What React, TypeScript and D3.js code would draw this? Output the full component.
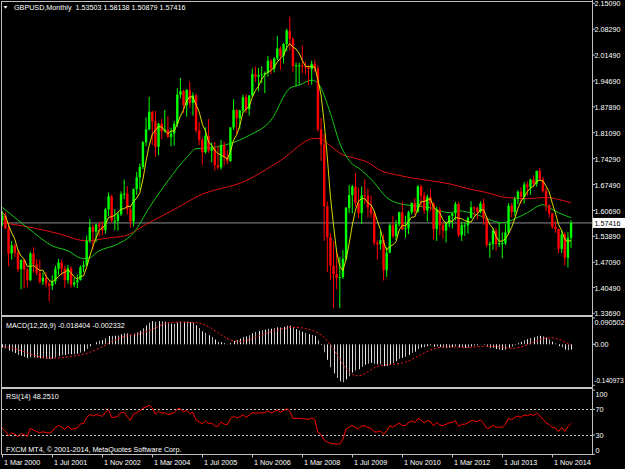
import React, { useEffect, useRef } from "react";
import * as d3 from "d3";

// monthly bars, first one is Jan 1999 (bars before Mar 2000 sit left of the chart)
const firstMonth = "1999-01";

const opens = [
  1.66, 1.646, 1.605, 1.612, 1.608, 1.604, 1.578, 1.608, 1.602, 1.647, 1.646, 1.599,
  1.615, 1.617, 1.58, 1.593, 1.56, 1.494, 1.515, 1.496, 1.453, 1.477, 1.452, 1.424,
  1.494, 1.465, 1.443, 1.42, 1.43, 1.415, 1.409, 1.421, 1.454, 1.47, 1.454, 1.424,
  1.455, 1.412, 1.418, 1.424, 1.458, 1.463, 1.528, 1.563, 1.551, 1.57, 1.565, 1.555,
  1.61, 1.644, 1.58, 1.58, 1.597, 1.65, 1.651, 1.61, 1.578, 1.663, 1.694, 1.721,
  1.786, 1.82, 1.866, 1.841, 1.774, 1.835, 1.815, 1.819, 1.8, 1.809, 1.834, 1.911,
  1.92, 1.884, 1.923, 1.889, 1.909, 1.817, 1.792, 1.76, 1.803, 1.764, 1.77, 1.726,
  1.72, 1.779, 1.746, 1.737, 1.825, 1.871, 1.849, 1.869, 1.904, 1.873, 1.909, 1.965,
  1.958, 1.962, 1.964, 1.968, 2.0, 1.979, 2.006, 2.032, 2.013, 2.044, 2.079, 2.057,
  1.986, 1.988, 1.988, 1.985, 1.982, 1.978, 1.992, 1.98, 1.82, 1.78, 1.618, 1.537,
  1.462, 1.44, 1.43, 1.432, 1.48, 1.614, 1.647, 1.67, 1.627, 1.6, 1.647, 1.646,
  1.615, 1.599, 1.522, 1.518, 1.529, 1.45, 1.496, 1.568, 1.54, 1.571, 1.602, 1.558,
  1.56, 1.602, 1.626, 1.604, 1.67, 1.646, 1.607, 1.642, 1.625, 1.558, 1.608, 1.569,
  1.554, 1.573, 1.593, 1.6, 1.624, 1.542, 1.568, 1.568, 1.587, 1.615, 1.614, 1.603,
  1.625, 1.586, 1.517, 1.519, 1.553, 1.519, 1.521, 1.521, 1.549, 1.619, 1.603, 1.637,
  1.656, 1.643, 1.675, 1.668, 1.688, 1.677, 1.711, 1.688, 1.658, 1.621, 1.599, 1.564,
  1.558, 1.506, 1.544, 1.483, 1.53503,
];
const highs = [
  1.674, 1.652, 1.64, 1.624, 1.643, 1.615, 1.615, 1.622, 1.652, 1.676, 1.652, 1.63,
  1.657, 1.625, 1.605, 1.603, 1.569, 1.527, 1.52, 1.505, 1.478, 1.48, 1.456, 1.498,
  1.51, 1.48, 1.478, 1.444, 1.444, 1.421, 1.437, 1.462, 1.48, 1.478, 1.462, 1.464,
  1.46, 1.43, 1.439, 1.463, 1.475, 1.541, 1.584, 1.57, 1.572, 1.576, 1.579, 1.614,
  1.654, 1.648, 1.61, 1.603, 1.657, 1.688, 1.671, 1.62, 1.665, 1.708, 1.73, 1.789,
  1.851, 1.905, 1.869, 1.868, 1.837, 1.847, 1.871, 1.854, 1.824, 1.842, 1.928, 1.955,
  1.924, 1.926, 1.945, 1.917, 1.914, 1.839, 1.798, 1.825, 1.847, 1.785, 1.787, 1.776,
  1.792, 1.787, 1.765, 1.825, 1.899, 1.873, 1.872, 1.911, 1.912, 1.909, 1.98, 1.985,
  1.981, 1.985, 1.972, 2.013, 2.005, 2.009, 2.065, 2.038, 2.046, 2.084, 2.116, 2.062,
  1.995, 1.995, 2.04, 1.998, 1.988, 2.0, 2.003, 1.988, 1.85, 1.808, 1.63, 1.548,
  1.526, 1.499, 1.485, 1.503, 1.616, 1.674, 1.674, 1.704, 1.666, 1.67, 1.688, 1.664,
  1.646, 1.606, 1.53, 1.554, 1.544, 1.51, 1.573, 1.592, 1.582, 1.604, 1.63, 1.593,
  1.606, 1.628, 1.64, 1.674, 1.675, 1.655, 1.649, 1.662, 1.628, 1.617, 1.616, 1.578,
  1.578, 1.594, 1.6, 1.63, 1.629, 1.578, 1.576, 1.591, 1.631, 1.618, 1.617, 1.631,
  1.638, 1.592, 1.525, 1.56, 1.561, 1.575, 1.549, 1.572, 1.626, 1.626, 1.643, 1.66,
  1.667, 1.682, 1.683, 1.69, 1.699, 1.711, 1.719, 1.695, 1.666, 1.623, 1.6, 1.579,
  1.559, 1.555, 1.55, 1.55, 1.58138,
];
const lows = [
  1.624, 1.599, 1.597, 1.597, 1.598, 1.571, 1.558, 1.587, 1.59, 1.635, 1.589, 1.597,
  1.607, 1.565, 1.566, 1.558, 1.46, 1.478, 1.485, 1.446, 1.4, 1.402, 1.405, 1.422,
  1.444, 1.436, 1.415, 1.411, 1.405, 1.368, 1.398, 1.413, 1.437, 1.436, 1.404, 1.415,
  1.404, 1.406, 1.403, 1.423, 1.445, 1.46, 1.522, 1.505, 1.524, 1.538, 1.542, 1.546,
  1.592, 1.575, 1.555, 1.554, 1.592, 1.637, 1.596, 1.562, 1.565, 1.648, 1.661, 1.715,
  1.776, 1.817, 1.779, 1.748, 1.752, 1.794, 1.811, 1.798, 1.775, 1.777, 1.826, 1.901,
  1.863, 1.853, 1.877, 1.856, 1.811, 1.778, 1.727, 1.756, 1.758, 1.733, 1.711, 1.715,
  1.714, 1.725, 1.728, 1.734, 1.818, 1.808, 1.82, 1.863, 1.863, 1.856, 1.905, 1.944,
  1.92, 1.941, 1.915, 1.958, 1.965, 1.969, 2.001, 1.976, 1.993, 2.025, 2.027, 1.971,
  1.933, 1.936, 1.967, 1.965, 1.936, 1.937, 1.97, 1.814, 1.737, 1.527, 1.445, 1.424,
  1.35, 1.4, 1.351, 1.427, 1.475, 1.6, 1.599, 1.617, 1.587, 1.571, 1.624, 1.588,
  1.588, 1.515, 1.478, 1.504, 1.423, 1.432, 1.495, 1.534, 1.529, 1.565, 1.555, 1.535,
  1.545, 1.596, 1.596, 1.601, 1.616, 1.598, 1.578, 1.605, 1.53, 1.527, 1.542, 1.534,
  1.523, 1.563, 1.56, 1.581, 1.537, 1.527, 1.54, 1.546, 1.586, 1.591, 1.583, 1.599,
  1.569, 1.51, 1.483, 1.504, 1.501, 1.511, 1.481, 1.516, 1.544, 1.589, 1.593, 1.624,
  1.625, 1.625, 1.646, 1.648, 1.669, 1.669, 1.686, 1.654, 1.605, 1.588, 1.559, 1.548,
  1.495, 1.495, 1.463, 1.457, 1.50879,
];
const closes = [
  1.646, 1.605, 1.612, 1.608, 1.604, 1.578, 1.608, 1.602, 1.647, 1.646, 1.599, 1.615,
  1.617, 1.58, 1.593, 1.56, 1.494, 1.515, 1.496, 1.453, 1.477, 1.452, 1.424, 1.494,
  1.465, 1.443, 1.42, 1.43, 1.415, 1.409, 1.421, 1.454, 1.47, 1.454, 1.424, 1.455,
  1.412, 1.418, 1.424, 1.458, 1.463, 1.528, 1.563, 1.551, 1.57, 1.565, 1.555, 1.61,
  1.644, 1.58, 1.58, 1.597, 1.65, 1.651, 1.61, 1.578, 1.663, 1.694, 1.721, 1.786,
  1.82, 1.866, 1.841, 1.774, 1.835, 1.815, 1.819, 1.8, 1.809, 1.834, 1.911, 1.92,
  1.884, 1.923, 1.889, 1.909, 1.817, 1.792, 1.76, 1.803, 1.764, 1.77, 1.726, 1.72,
  1.779, 1.746, 1.737, 1.825, 1.871, 1.849, 1.869, 1.904, 1.873, 1.909, 1.965, 1.958,
  1.962, 1.964, 1.968, 2.0, 1.979, 2.006, 2.032, 2.013, 2.044, 2.079, 2.057, 1.986,
  1.988, 1.988, 1.985, 1.982, 1.978, 1.992, 1.98, 1.82, 1.78, 1.618, 1.537, 1.462,
  1.44, 1.43, 1.432, 1.48, 1.614, 1.647, 1.67, 1.627, 1.6, 1.647, 1.646, 1.615,
  1.599, 1.522, 1.518, 1.529, 1.45, 1.496, 1.568, 1.54, 1.571, 1.602, 1.558, 1.56,
  1.602, 1.626, 1.604, 1.67, 1.646, 1.607, 1.642, 1.625, 1.558, 1.608, 1.569, 1.554,
  1.573, 1.593, 1.6, 1.624, 1.542, 1.568, 1.568, 1.587, 1.615, 1.614, 1.603, 1.625,
  1.586, 1.517, 1.519, 1.553, 1.519, 1.521, 1.521, 1.549, 1.619, 1.603, 1.637, 1.656,
  1.643, 1.675, 1.668, 1.688, 1.677, 1.711, 1.688, 1.658, 1.621, 1.599, 1.564, 1.558,
  1.506, 1.544, 1.483, 1.535, 1.57416,
];

// slow moving averages as drawn on the chart
const greenDates = [
  "2000-03", "2000-09", "2001-01", "2001-07", "2001-12", "2002-04", "2002-06", "2002-10",
  "2003-04", "2003-09", "2004-02", "2004-08", "2005-02", "2005-05", "2005-10", "2006-04",
  "2006-10", "2007-05", "2007-11", "2008-02", "2008-06", "2008-08", "2008-12", "2009-03",
  "2009-06", "2009-10", "2010-02", "2010-06", "2010-10", "2011-02", "2011-08", "2012-02",
  "2012-05", "2012-10", "2013-07", "2013-11", "2014-03", "2014-08", "2014-10", "2015-01",
  "2015-05",
];
const greenValues = [
  1.615, 1.575, 1.549, 1.514, 1.501, 1.482, 1.48, 1.501,
  1.519, 1.548, 1.614, 1.685, 1.746, 1.769, 1.772, 1.783,
  1.804, 1.844, 1.928, 1.936, 1.949, 1.941, 1.862, 1.783,
  1.738, 1.712, 1.68, 1.641, 1.625, 1.62, 1.614, 1.601,
  1.606, 1.598, 1.575, 1.585, 1.601, 1.622, 1.614, 1.601,
  1.588,
];
const redDates = [
  "2000-03", "2001-01", "2001-09", "2002-06", "2003-01", "2003-06", "2004-02", "2004-11",
  "2005-06", "2006-09", "2007-08", "2008-07", "2008-09", "2008-11", "2009-04", "2009-07",
  "2009-12", "2010-04", "2010-10", "2011-03", "2011-08", "2012-02", "2012-08", "2013-02",
  "2013-08", "2014-03", "2014-09", "2015-01", "2015-05",
];
const redValues = [
  1.575, 1.561, 1.546, 1.527, 1.535, 1.54, 1.575, 1.614,
  1.646, 1.685, 1.738, 1.796, 1.795, 1.783, 1.753, 1.746,
  1.733, 1.712, 1.699, 1.691, 1.685, 1.677, 1.664, 1.654,
  1.641, 1.638, 1.641, 1.636, 1.627,
];

const priceTicks = [
  2.1509, 2.0829, 2.0149, 1.9469, 1.8789, 1.8109, 1.7429, 1.6749, 1.6069, 1.5389,
  1.4709, 1.4049, 1.3369,
];
const macdTicks = [0.090502, 0, -0.140973];
const macdTickLabels = ["0.090502", "0.00", "-0.140973"];
const rsiTicks = [100, 70, 30, 0];
const rsiLevels = [70, 30];
const timeTicks = [
  "2000-03", "2001-07", "2002-11", "2004-03", "2005-07", "2006-11",
  "2008-03", "2009-07", "2010-11", "2012-03", "2013-07", "2014-11",
];
const monthNames = ["Jan", "Feb", "Mar", "Apr", "May", "Jun", "Jul", "Aug", "Sep", "Oct", "Nov", "Dec"];
const bidPrice = 1.57416;
const yellowPeriod = 5;

function monthIndex(s: string) {
  const [yy, mm] = s.split("-").map(Number);
  return (yy - 2000) * 12 + (mm - 3);
}

function App() {
  const ref = useRef<SVGSVGElement>(null);

  useEffect(() => {
    const W = 625,
      H = 469;
    const svg = d3.select(ref.current);
    svg.selectAll("*").remove();
    const font = "'Liberation Sans', Arial, sans-serif";
    const axisColor = "#c0c0c0";

    svg.append("rect").attr("width", W).attr("height", H).attr("fill", "#000");

    const right = 592;
    const main = { top: 2, bottom: 315 };
    const macdPanel = { top: 318, bottom: 385.3 };
    const rsiPanel = { top: 390.1, bottom: 454.3 };

    const x = d3.scaleLinear().domain([0, 176]).range([2.3, 552.3]);
    const y = d3.scaleLinear().domain([1.3369, 2.1509]).range([313.3, 3.3]);
    const m = d3
      .scaleLinear()
      .domain([-0.140973, 0.090502])
      .range([macdPanel.bottom, macdPanel.top]);
    const r = d3.scaleLinear().domain([0, 100]).range([rsiPanel.bottom, rsiPanel.top]);

    const defs = svg.append("defs");
    const clip = (id: string, y0: number, y1: number) => {
      defs
        .append("clipPath")
        .attr("id", id)
        .append("rect")
        .attr("x", 2)
        .attr("y", y0)
        .attr("width", right - 2)
        .attr("height", y1 - y0);
    };
    clip("clipMain", main.top, main.bottom);
    clip("clipMacd", 317, 386.5);
    clip("clipRsi", 389.5, 454);

    const start = monthIndex(firstMonth);
    const bars = closes.map((c, k) => ({
      i: start + k,
      o: opens[k],
      h: highs[k],
      l: lows[k],
      c: c,
    }));

    // ---------- main panel ----------
    const g = svg.append("g").attr("clip-path", "url(#clipMain)");

    const line = d3
      .line<[number, number]>()
      .x((d) => x(d[0]))
      .y((d) => y(d[1]))
      .curve(d3.curveMonotoneX);

    g.append("line")
      .attr("x1", 2)
      .attr("x2", right)
      .attr("y1", y(bidPrice))
      .attr("y2", y(bidPrice))
      .attr("stroke", "#8c8c8c")
      .attr("stroke-width", 1);

    const redPts: [number, number][] = redDates.map((d, k) => [monthIndex(d), redValues[k]]);
    g.append("path")
      .attr("d", line(redPts))
      .attr("fill", "none")
      .attr("stroke", "#e01010")
      .attr("stroke-width", 1);

    const greenPts: [number, number][] = greenDates.map((d, k) => [monthIndex(d), greenValues[k]]);
    g.append("path")
      .attr("d", line(greenPts))
      .attr("fill", "none")
      .attr("stroke", "#14c814")
      .attr("stroke-width", 1);

    const col = (d: any) => (d.c >= d.o ? "#00ff00" : "#ff0000");
    g.selectAll("line.wick")
      .data(bars)
      .join("line")
      .attr("class", "wick")
      .attr("x1", (d) => x(d.i))
      .attr("x2", (d) => x(d.i))
      .attr("y1", (d) => y(d.h))
      .attr("y2", (d) => y(d.l))
      .attr("stroke", col)
      .attr("stroke-width", 1);
    g.selectAll("rect.body")
      .data(bars)
      .join("rect")
      .attr("class", "body")
      .attr("x", (d) => x(d.i) - 1.2)
      .attr("width", 2.4)
      .attr("y", (d) => y(Math.max(d.o, d.c)))
      .attr("height", (d) => Math.max(1, Math.abs(y(d.o) - y(d.c))))
      .attr("fill", col);

    const yellowPts: [number, number][] = [];
    bars.forEach((b, k) => {
      if (k < yellowPeriod - 1) return;
      const avg = d3.mean(closes.slice(k - yellowPeriod + 1, k + 1)) as number;
      yellowPts.push([b.i, avg]);
    });
    g.append("path")
      .attr("d", d3.line<[number, number]>().x((d) => x(d[0])).y((d) => y(d[1]))(yellowPts))
      .attr("fill", "none")
      .attr("stroke", "#f0f000")
      .attr("stroke-width", 0.9);

    // ---------- MACD(12,26,9) ----------
    const k12 = 2 / 13,
      k26 = 2 / 27;
    let e12 = closes[0],
      e26 = closes[0];
    const macd = closes.map((c) => {
      e12 = c * k12 + e12 * (1 - k12);
      e26 = c * k26 + e26 * (1 - k26);
      return e12 - e26;
    });
    const gm = svg.append("g").attr("clip-path", "url(#clipMacd)");
    gm.selectAll("line.hist")
      .data(bars)
      .join("line")
      .attr("class", "hist")
      .attr("x1", (d) => Math.round(x(d.i)) + 0.5)
      .attr("x2", (d) => Math.round(x(d.i)) + 0.5)
      .attr("y1", m(0))
      .attr("y2", (d, k) => m(macd[k]))
      .attr("stroke", (d, k) => (k % 2 ? "#b4b4b4" : "#e8e8e8"))
      .attr("stroke-width", 1);
    const sigPts: [number, number][] = [];
    bars.forEach((b, k) => {
      if (k < 8) return;
      sigPts.push([b.i, d3.mean(macd.slice(k - 8, k + 1)) as number]);
    });
    gm.append("path")
      .attr("d", d3.line<[number, number]>().x((d) => x(d[0])).y((d) => m(d[1]))(sigPts))
      .attr("fill", "none")
      .attr("stroke", "#ff1a1a")
      .attr("stroke-width", 1)
      .attr("stroke-dasharray", "2,2");

    // ---------- RSI(14) ----------
    const n = 14;
    const rsiPts: [number, number][] = [];
    let avgUp = 0,
      avgDn = 0;
    for (let k = 1; k < closes.length; k++) {
      const diff = closes[k] - closes[k - 1];
      const up = Math.max(diff, 0),
        dn = Math.max(-diff, 0);
      if (k <= n) {
        avgUp += up / n;
        avgDn += dn / n;
      } else {
        avgUp = (avgUp * (n - 1) + up) / n;
        avgDn = (avgDn * (n - 1) + dn) / n;
      }
      if (k >= n) rsiPts.push([bars[k].i, avgDn === 0 ? 100 : 100 - 100 / (1 + avgUp / avgDn)]);
    }
    const gr = svg.append("g").attr("clip-path", "url(#clipRsi)");
    gr.selectAll("line.level")
      .data(rsiLevels)
      .join("line")
      .attr("class", "level")
      .attr("x1", 2)
      .attr("x2", right)
      .attr("y1", (d) => Math.round(r(d)) + 0.5)
      .attr("y2", (d) => Math.round(r(d)) + 0.5)
      .attr("stroke", "#c8c8c8")
      .attr("stroke-width", 1)
      .attr("stroke-dasharray", "2,2");
    gr.append("path")
      .attr("d", d3.line<[number, number]>().x((d) => x(d[0])).y((d) => r(d[1]))(rsiPts))
      .attr("fill", "none")
      .attr("stroke", "#ff0000")
      .attr("stroke-width", 1);

    // ---------- frame ----------
    const frame = svg.append("g").attr("stroke", axisColor).attr("stroke-width", 1);
    frame.append("line").attr("x1", 1.5).attr("x2", 1.5).attr("y1", 1).attr("y2", 455);
    frame.append("line").attr("x1", 1).attr("x2", right).attr("y1", 1.5).attr("y2", 1.5);
    frame.append("line").attr("x1", right + 0.5).attr("x2", right + 0.5).attr("y1", 0).attr("y2", 455);
    frame.append("line").attr("x1", 1).attr("x2", right + 1).attr("y1", 454.5).attr("y2", 454.5);
    [315, 387].forEach((sy) => {
      svg.append("rect")
        .attr("x", 1)
        .attr("y", sy)
        .attr("width", right)
        .attr("height", 2)
        .attr("fill", "#c4c4c4");
    });

    const text = (tx: number, ty: number, s: string, fill = "#fff", anchor = "start", size = 7.2) =>
      svg
        .append("text")
        .attr("x", tx)
        .attr("y", ty)
        .attr("dy", "0.35em")
        .attr("fill", fill)
        .attr("text-anchor", anchor)
        .attr("font-family", font)
        .attr("font-size", size)
        .style("white-space", "pre")
        .text(s);

    // price axis
    priceTicks.forEach((v) => {
      const py = y(v);
      frame.append("line").attr("x1", right).attr("x2", right + 3).attr("y1", py).attr("y2", py);
      text(right + 2.5, py + 0.6, v.toFixed(5));
    });
    macdTicks.forEach((v, k) => {
      const py = m(v);
      frame.append("line").attr("x1", right).attr("x2", right + 3).attr("y1", py).attr("y2", py);
      const ly = Math.min(Math.max(py, macdPanel.top + 4.6), macdPanel.bottom - 4.4);
      // the longest label is right-aligned so it stays inside the window
      if (macdTickLabels[k].length > 8) text(W - 1.5, ly, macdTickLabels[k], "#fff", "end", 6.5);
      else text(right + 2.5, ly, macdTickLabels[k]);
    });
    rsiTicks.forEach((v) => {
      const py = r(v);
      frame.append("line").attr("x1", right).attr("x2", right + 3).attr("y1", py).attr("y2", py);
      const ly = Math.min(Math.max(py, rsiPanel.top + 4.3), rsiPanel.bottom - 4.3);
      text(right + 3.5, ly, String(v));
    });

    // bid label
    svg.append("rect")
      .attr("x", right + 1)
      .attr("y", y(bidPrice) - 5)
      .attr("width", W - right - 1)
      .attr("height", 10)
      .attr("fill", "#fff");
    text(right + 2.5, y(bidPrice) + 0.3, bidPrice.toFixed(5), "#000");

    // time axis
    timeTicks.forEach((t) => {
      const tx = Math.round(x(monthIndex(t))) + 0.5;
      frame.append("line").attr("x1", tx).attr("x2", tx).attr("y1", 454.5).attr("y2", 457.5);
      const [yy, mm] = t.split("-").map(Number);
      text(tx + 1.5, 462.8, "1 " + monthNames[mm - 1] + " " + yy);
    });

    // titles
    svg.append("path").attr("d", "M3.5,6 L7.5,6 L5.5,8.8 Z").attr("fill", "#fff");
    text(14, 7.6, "GBPUSD,Monthly  1.53503 1.58138 1.50879 1.57416");
    text(6, 325, "MACD(12,26,9) -0.018404 -0.002332");
    text(6, 396.5, "RSI(14) 48.2510");
    text(6, 449, "FXCM MT4, \u00a9 2001-2014, MetaQuotes Software Corp.");
  }, []);

  return (
    <svg
      ref={ref}
      width={625}
      height={469}
      style={{ position: "absolute", left: 0, top: 0, display: "block" }}
    />
  );
}

export default App;
